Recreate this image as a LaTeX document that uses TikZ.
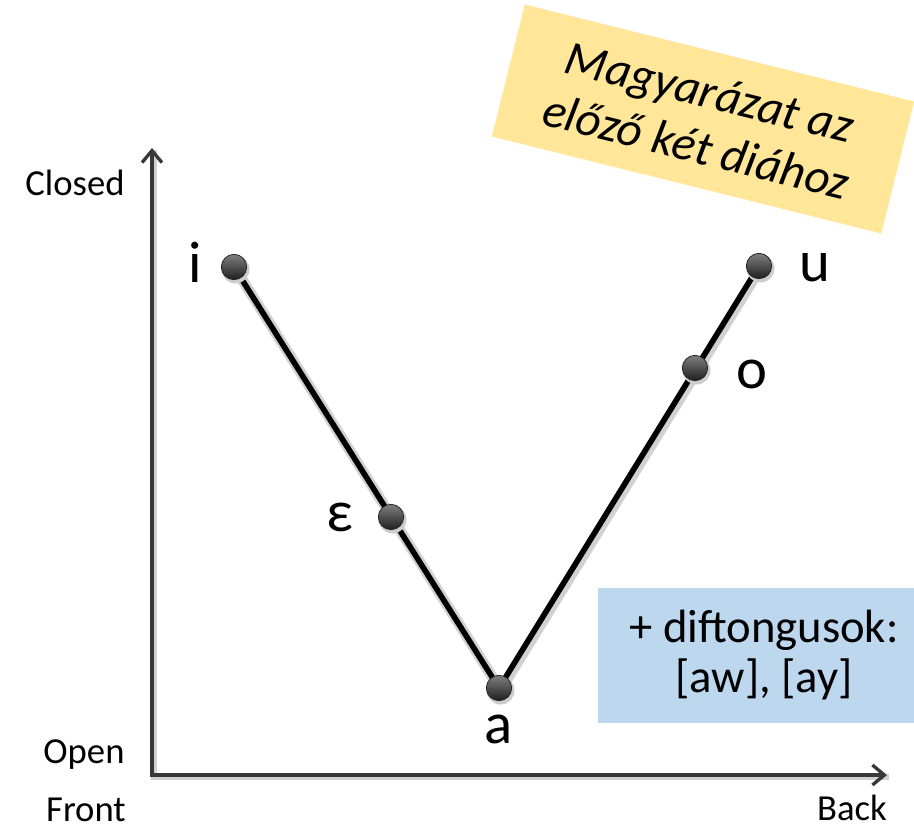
\documentclass[tikz,border=0pt]{standalone}
\usepackage{fontspec}
\setmainfont{Carlito}
\usetikzlibrary{arrows.meta}
\definecolor{notebg}{HTML}{FFE699}
\definecolor{infobg}{HTML}{BDD7EE}
\definecolor{axisgray}{HTML}{383838}

\begin{document}
\begin{tikzpicture}[x=0.75pt,y=-0.75pt,
  axis/.style={draw=axisgray, line width=2.5pt, line join=miter,
    {Straight Barb[length=9pt,width=15pt]}-{Straight Barb[length=9pt,width=15pt]}},
  axisshadow/.style={draw=black!18, line width=4.5pt, line join=miter},
  vline/.style={draw=black, line width=4.2pt, line join=round},
  vshadow/.style={draw=black!18, line width=8pt, line join=round},
  vowel/.style={circle, inner sep=0pt, minimum size=19pt, draw=black!85, line width=0.6pt,
    top color=black!50, bottom color=black!88},
  vlabel/.style={inner sep=0pt, font=\fontsize{44}{48}\selectfont},
  axlabel/.style={inner sep=0pt, anchor=base, font=\fontsize{27.5}{30}\selectfont},
]
\useasboundingbox (0,0) rectangle (914,825);

% tilted note in the upper right corner
\node[rotate=-14, fill=notebg, inner sep=0pt, minimum width=301pt, minimum height=102pt,
      align=center, font=\itshape\fontsize{36.5}{42}\selectfont] (note) at (703,119)
      {Magyarázat az\\előző két diához};

% diphthong box at the lower right
\fill[infobg] (598,588) rectangle (914,723);
\node[inner sep=0pt, align=center, font=\fontsize{35}{37.5}\selectfont] (diph) at (764,655)
      {+ diftongusok:\\{[aw], [ay]}};

% axes
\coordinate (origin) at (152,775);
\coordinate (ytip) at (152,148);
\coordinate (xtip) at (887,775);
\draw[axisshadow] ([shift={(1.5,1.5)}]ytip) -- ([shift={(1.5,1.5)}]origin) -- ([shift={(1.5,1.5)}]xtip);
\draw[axis] (ytip) -- (origin) -- (xtip);

\node[axlabel] (closed) at (75,195) {Closed};
\node[axlabel] (open) at (84,763) {Open};
\node[axlabel] (front) at (86,821) {Front};
\node[axlabel] (back) at (852,820) {Back};

% vowel positions
\coordinate (pi) at (234,267);
\coordinate (pe) at (391,517);
\coordinate (pa) at (499,688);
\coordinate (po) at (695,368);
\coordinate (pu) at (759,266);

\draw[vshadow] ([shift={(1.5,2)}]pi) -- ([shift={(1.5,2)}]pa) -- ([shift={(1.5,2)}]pu);
\draw[vline] (pi) -- (pa) -- (pu);

\foreach \p in {pi,pe,pa,po,pu}
  \fill[black!20] ([shift={(1.5,2.5)}]\p) circle (14);
\node[vowel] (i) at (pi) {};
\node[vowel] (e) at (pe) {};
\node[vowel] (a) at (pa) {};
\node[vowel] (o) at (po) {};
\node[vowel] (u) at (pu) {};

\node[vlabel] (li) at (195,262) {i};
\node[vlabel] (le) at (340,517) {ε};
\node[vlabel] (la) at (499,729) {a};
\node[vlabel] (lo) at (752,374) {o};
\node[vlabel] (lu) at (815,268) {u};
\end{tikzpicture}
\end{document}
